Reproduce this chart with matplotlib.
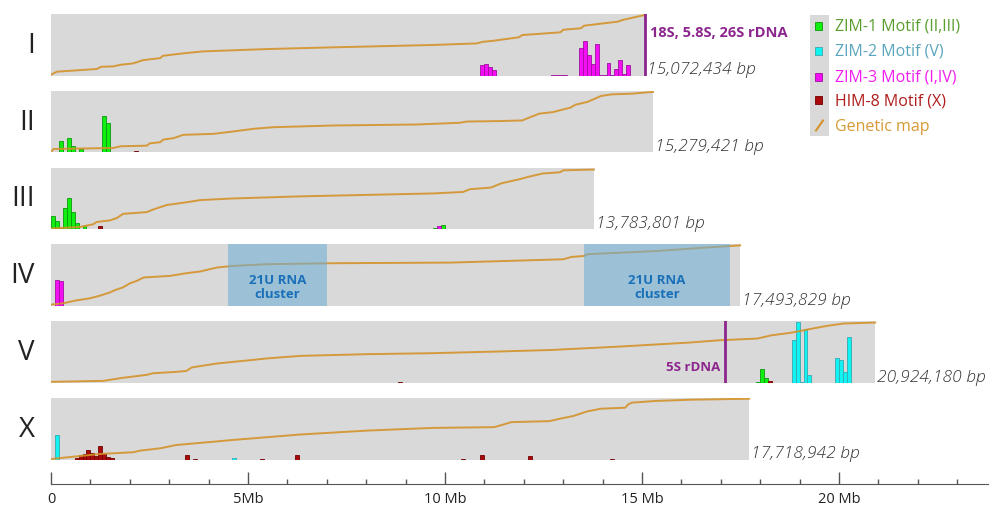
import numpy as np
import matplotlib.pyplot as plt
from matplotlib.patches import Rectangle

plt.rcParams['font.family'] = ['Open Sans', 'DejaVu Sans']

chrom_names = ["I", "II", "III", "IV", "V", "X"]
chrom_lengths = [15072434, 15279421, 13783801, 17493829, 20924180, 17718942]

# genetic map: physical position (Mb) vs map position (cM, panel = 50 cM)
gmap_I_mb = [0, 0.15, 1.16, 1.28, 1.58, 1.76, 2.08, 2.34, 2.77, 2.84, 3.35, 3.86, 5.48, 7.16,
             9.69, 10.81, 10.96, 11.22, 11.88, 11.96, 12.93, 13.0, 13.45, 13.53, 14.39, 14.5, 15.07]
gmap_I_cm = [0.7, 3.1, 5.3, 7.1, 7.4, 8.7, 9.8, 12.5, 14.1, 16.0, 18.0, 19.6, 21.5, 22.9,
             24.8, 26.1, 27.4, 28.2, 31.1, 32.9, 35.1, 37.2, 38.4, 40.5, 43.8, 45.1, 49.2]
gmap_II_mb = [0, 0.06, 1.58, 1.76, 2.43, 2.51, 2.77, 2.85, 3.11, 3.36, 4.12, 4.62, 5.14, 5.64,
              7.17, 9.28, 10.38, 10.55, 11.4, 11.96, 12.13, 12.39, 12.74, 13.18, 13.31, 13.61,
              13.96, 14.23, 14.75, 15.28]
gmap_II_cm = [0, 2.7, 3.5, 4.9, 5.4, 7.3, 8.2, 10.3, 11.5, 14.2, 15.0, 16.9, 19.1, 20.4,
              21.8, 22.6, 24.0, 25.0, 25.4, 25.9, 28.1, 31.4, 32.7, 36.3, 38.7, 40.9,
              45.8, 47.1, 47.7, 49.1]
gmap_III_mb = [0, 0.74, 1.07, 1.16, 1.5, 1.67, 1.83, 2.43, 2.59, 2.94, 3.44, 3.79, 4.62, 6.32,
               9.7, 10.46, 10.63, 11.17, 11.43, 11.87, 12.13, 12.48, 12.92, 13.0, 13.78]
gmap_III_cm = [0.4, 1.8, 3.9, 5.8, 7.1, 9.0, 12.4, 13.8, 15.9, 19.6, 21.8, 23.6, 24.9, 26.6,
               29.0, 30.2, 32.4, 33.8, 37.2, 40.4, 42.6, 45.2, 46.2, 47.8, 48.4]
gmap_IV_mb = [0, 0.32, 0.61, 0.99, 1.24, 1.5, 1.63, 1.83, 2.0, 2.18, 2.35, 3.02, 3.44, 3.79,
              4.21, 4.62, 5.47, 7.17, 10.13, 13.0, 13.21, 13.53, 13.61, 15.36, 16.23, 17.49]
gmap_IV_cm = [1.0, 2.2, 4.3, 6.2, 8.3, 11.0, 12.9, 15.1, 18.3, 20.4, 23.1, 24.4, 26.6, 28.0,
              31.2, 32.5, 33.9, 34.7, 35.2, 37.9, 39.8, 40.6, 42.0, 44.6, 46.6, 49.2]
gmap_V_mb = [0, 1.33, 1.76, 2.43, 2.59, 3.18, 3.44, 3.57, 4.21, 5.05, 5.47, 6.32, 8.02, 9.7,
             11.4, 12.7, 14.45, 16.19, 16.97, 17.93, 18.28, 18.8, 19.24, 19.68, 20.11, 20.92]
gmap_V_cm = [0.7, 1.5, 3.7, 6.4, 7.7, 8.8, 9.6, 12.4, 15.6, 18.3, 19.7, 21.8, 23.2, 24.0,
             25.4, 26.6, 29.4, 32.6, 34.5, 35.9, 38.5, 40.7, 43.5, 46.1, 48.1, 48.9]
gmap_X_mb = [0, 1.24, 2.09, 2.26, 2.77, 3.18, 3.96, 4.62, 5.47, 6.32, 8.02, 9.7, 11.25, 11.69,
             12.65, 12.91, 13.26, 13.61, 13.96, 14.57, 14.65, 14.74, 15.35, 16.22, 17.72]
gmap_X_cm = [0.4, 4.5, 5.9, 7.2, 9.1, 11.8, 14.0, 15.9, 18.1, 20.3, 23.5, 25.7, 26.3, 30.4,
             31.2, 33.1, 35.4, 39.1, 41.3, 42.1, 44.8, 46.2, 47.6, 48.6, 49.4]

# motif density, 0.1 Mb bins (bin start in Mb, count)
zim3_I_mb = [10.9, 11.0, 11.1, 11.2, 12.7, 12.8, 12.9, 13.0, 13.4, 13.5, 13.6, 13.7, 13.8,
             13.9, 14.0, 14.1, 14.2, 14.3, 14.4, 14.5, 14.6]
zim3_I_n = [10.5, 11.5, 9, 5.5, 1, 1, 1, 1, 28, 35, 21, 11.5, 32, 1, 1, 12.5, 1, 6.5, 15.5, 1.5, 10.5]
zim1_II_mb = [0.2, 0.4, 0.5, 0.7, 1.3, 1.4, 10.3]
zim1_II_n = [11.5, 14, 6.5, 3.5, 36, 29, 0.8]
him8_II_mb = [2.1]
him8_II_n = [1]
zim1_III_mb = [0.0, 0.1, 0.2, 0.3, 0.4, 0.5, 0.6, 0.8, 9.7, 9.9]
zim1_III_n = [13.5, 8.5, 1, 20.8, 30.8, 17, 6, 2.8, 1, 4]
zim3_III_mb = [9.8]
zim3_III_n = [3]
him8_III_mb = [1.2]
him8_III_n = [3.5]
zim3_IV_mb = [0.1, 0.2]
zim3_IV_n = [26.3, 25.3]
zim1_V_mb = [17.9, 18.0, 18.1]
zim1_V_n = [1, 14, 4.7]
zim2_V_mb = [18.8, 18.9, 19.0, 19.1, 19.2, 19.9, 20.0, 20.1, 20.2]
zim2_V_n = [43, 60.7, 1, 53.7, 8, 24.7, 23, 10.7, 46]
him8_V_mb = [8.8, 18.2]
him8_V_n = [1, 1.5]
zim2_X_mb = [0.1, 4.6]
zim2_X_n = [24.3, 1.5]
him8_X_mb = [0.6, 0.7, 0.8, 0.9, 1.0, 1.1, 1.2, 1.3, 1.4, 1.5, 3.4, 3.6, 5.3, 6.2, 10.4, 10.9, 12.1, 14.2]
him8_X_n = [1.5, 4.5, 6, 9.5, 6.8, 4, 13.5, 6, 3, 1.5, 5, 1, 1, 5, 1, 4.5, 4, 1]

cluster_21u = [(4.5, 7.0), (13.53, 17.23)]

gmaps = {"I": (gmap_I_mb, gmap_I_cm), "II": (gmap_II_mb, gmap_II_cm),
         "III": (gmap_III_mb, gmap_III_cm), "IV": (gmap_IV_mb, gmap_IV_cm),
         "V": (gmap_V_mb, gmap_V_cm), "X": (gmap_X_mb, gmap_X_cm)}

fill = {"zim1": "#11ee11", "zim2": "#11f2f2", "zim3": "#f40ff4", "him8": "#aa0a0a"}
edge = {"zim1": "#0a9a0a", "zim2": "#3aa7b0", "zim3": "#a010a0", "him8": "#700000"}
motifs = {
    "I": [("zim3", zim3_I_mb, zim3_I_n)],
    "II": [("zim1", zim1_II_mb, zim1_II_n), ("him8", him8_II_mb, him8_II_n)],
    "III": [("zim1", zim1_III_mb, zim1_III_n), ("zim3", zim3_III_mb, zim3_III_n),
            ("him8", him8_III_mb, him8_III_n)],
    "IV": [("zim3", zim3_IV_mb, zim3_IV_n)],
    "V": [("zim1", zim1_V_mb, zim1_V_n), ("zim2", zim2_V_mb, zim2_V_n), ("him8", him8_V_mb, him8_V_n)],
    "X": [("zim2", zim2_X_mb, zim2_X_n), ("him8", him8_X_mb, him8_X_n)],
}

W, H = 989, 510
X0, PX_PER_MB = 51, 39.4
XMAX = (W - X0) / PX_PER_MB
CMAX = 61.5
MAPCOL = "#d4922a"
PURPLE = "#8c258e"
GRAY = "#d9d9d9"

fig = plt.figure(figsize=(W / 100, H / 100), dpi=100)

def px_axes(top, bottom):
    return fig.add_axes([X0 / W, 1 - bottom / H, 1 - X0 / W, (bottom - top) / H])

over = fig.add_axes([0, 0, 1, 1], zorder=10)
over.set_xlim(0, W)
over.set_ylim(H, 0)
over.axis("off")
over.patch.set_alpha(0)

for i, name in enumerate(chrom_names):
    top = 15 + 76.8 * i
    bottom = top + 61.5
    ax = px_axes(top, bottom)
    ax.set_xlim(0, XMAX)
    ax.set_ylim(0, 1)
    ax.axis("off")
    length = chrom_lengths[i] / 1e6
    ax.add_patch(Rectangle((0, 0), length, 1, color=GRAY, zorder=0, lw=0))
    for key, pos, n in motifs[name]:
        ax.bar(pos, np.array(n) / CMAX, width=0.1, align="edge", color=fill[key],
               edgecolor=edge[key], linewidth=0.6, zorder=2)
    mb, cm = gmaps[name]
    ax.plot(mb, np.array(cm) / 50, color=MAPCOL, lw=1.4, zorder=3, alpha=0.9)
    ax.annotate(f"{chrom_lengths[i]:,} bp", (length, 0), xytext=(2, 2),
                textcoords="offset pixels", ha="left", va="baseline",
                fontsize=12.5, style="italic", fontweight="light", color="#333333")
    over.text(35, (top + bottom) / 2, name, ha="right", va="center", fontsize=20, color="#222222")

    if name == "I":
        ax.plot([length, length], [0, 1], color=PURPLE, lw=2, zorder=5)
        ax.annotate("18S, 5.8S, 26S rDNA", (length, 0.71), xytext=(5, 0),
                    textcoords="offset pixels", ha="left", va="center",
                    fontsize=10.5, fontweight="bold", color=PURPLE)
    if name == "IV":
        for a, b in cluster_21u:
            ax.add_patch(Rectangle((a, 0), b - a, 1, color="#6baed6", alpha=0.55, lw=0, zorder=4))
            ax.text((a + b) / 2, 0.32, "21U RNA\ncluster", ha="center", va="center",
                    fontsize=9.5, fontweight="bold", color="#1a70b8", zorder=6, linespacing=1.1)
    if name == "V":
        ax.plot([17.1, 17.1], [0, 1], color=PURPLE, lw=2, zorder=5)
        ax.annotate("5S rDNA", (17.1, 0.27), xytext=(-4, 0), textcoords="offset pixels",
                    ha="right", va="center", fontsize=9.5, fontweight="bold", color=PURPLE)

# position axis
axx = fig.add_axes([X0 / W, 1 - 485 / H, 1 - X0 / W, 0.0001])
axx.set_xlim(0, XMAX)
axx.set_yticks([])
for s in ["left", "right", "top"]:
    axx.spines[s].set_visible(False)
axx.spines["bottom"].set_color("#555555")
axx.set_xticks([0, 5, 10, 15, 20])
axx.set_xticklabels(["0", "5Mb", "10 Mb", "15 Mb", "20 Mb"], fontsize=10.5, color="#222222")
axx.set_xticks(np.arange(0, 24, 1), minor=True)
axx.tick_params(axis="x", which="major", direction="in", length=9, width=1, color="#555555", pad=5)
axx.tick_params(axis="x", which="minor", direction="in", length=3.5, width=1, color="#555555")

# legend
over.add_patch(Rectangle((810, 16), 19, 121, color=GRAY, lw=0))
leg_labels = ["ZIM-1 Motif (II,III)", "ZIM-2 Motif (V)", "ZIM-3 Motif (I,IV)", "HIM-8 Motif (X)", "Genetic map"]
leg_colors = ["#5a9e2f", "#5aa5bd", "#f01ef0", "#b01c1c", "#d79a35"]
leg_keys = ["zim1", "zim2", "zim3", "him8"]
leg_y = [26.7, 52, 77.5, 101, 126.7]
for k, y in zip(leg_keys, leg_y):
    over.add_patch(Rectangle((815, y - 4), 7, 8, facecolor=fill[k], edgecolor=edge[k], lw=0.6))
over.plot([816, 823], [131.5, 121.5], color=MAPCOL, lw=1.5)
for lab, c, y in zip(leg_labels, leg_colors, leg_y):
    over.text(835, y, lab, ha="left", va="center", fontsize=11.5, color=c)

fig.savefig("out.png", dpi=100)
